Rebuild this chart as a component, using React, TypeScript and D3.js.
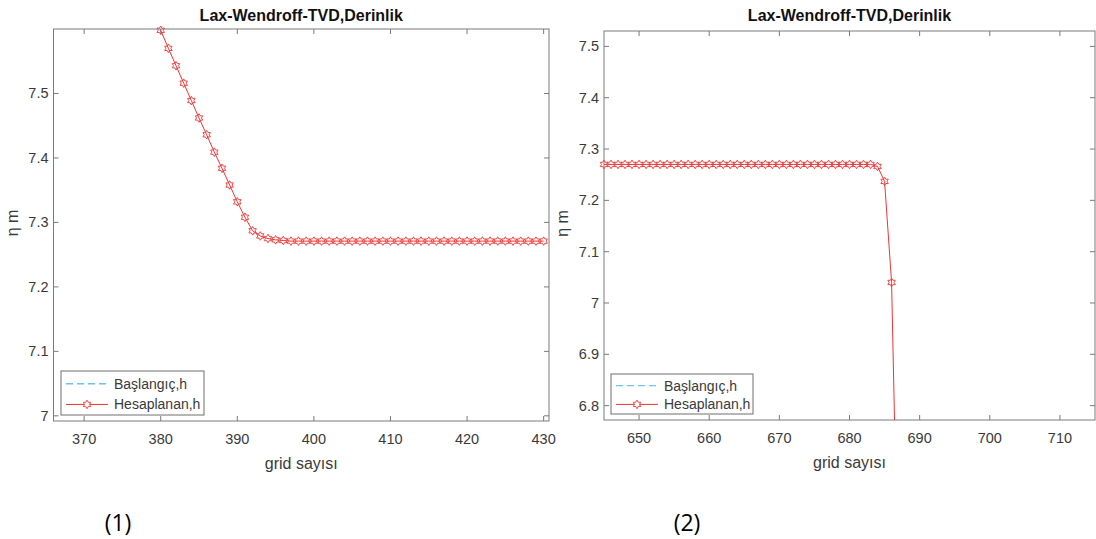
import React, { useEffect, useRef } from 'react';
import * as d3 from 'd3';

// panel (1): grid 380..430
const gridStart1 = 380;
const heights1 = [
  7.598, 7.570, 7.543, 7.516, 7.489, 7.462, 7.436, 7.409, 7.384, 7.358,
  7.332, 7.308, 7.287, 7.279, 7.275, 7.273, 7.272, 7.271, 7.271, 7.271,
  7.271, 7.271, 7.271, 7.271, 7.271, 7.271, 7.271, 7.271, 7.271, 7.271,
  7.271, 7.271, 7.271, 7.271, 7.271, 7.271, 7.271, 7.271, 7.271, 7.271,
  7.271, 7.271, 7.271, 7.271, 7.271, 7.271, 7.271, 7.271, 7.271, 7.271,
  7.271,
];
const xTicks1 = [370, 380, 390, 400, 410, 420, 430];
const yTicks1 = [7, 7.1, 7.2, 7.3, 7.4, 7.5];

// panel (2): grid 645..687
const gridStart2 = 645;
const heights2 = [
  7.27, 7.27, 7.27, 7.27, 7.27, 7.27, 7.27, 7.27, 7.27, 7.27,
  7.27, 7.27, 7.27, 7.27, 7.27, 7.27, 7.27, 7.27, 7.27, 7.27,
  7.27, 7.27, 7.27, 7.27, 7.27, 7.27, 7.27, 7.27, 7.27, 7.27,
  7.27, 7.27, 7.27, 7.27, 7.27, 7.27, 7.27, 7.27, 7.27, 7.266,
  7.237, 7.04, 6.4,
];
const xTicks2 = [650, 660, 670, 680, 690, 700, 710];
const yTicks2 = [6.8, 6.9, 7, 7.1, 7.2, 7.3, 7.4, 7.5];

const legendLabels = ['Başlangıç,h', 'Hesaplanan,h'];
const titleText = 'Lax-Wendroff-TVD,Derinlik';

const RED = '#f03434';
const BLUE = '#6cc4ea';
const AXIS = '#7a7a7a';
const TEXT = '#3a3a3a';
const FONT = '"Liberation Sans", Arial, sans-serif';

const panels = [
  {
    id: 'p1', left: 53.5, right: 549, top: 29, bottom: 421,
    xDomain: [366, 430.7], yDomain: [6.992, 7.6],
    start: gridStart1, values: heights1, xTicks: xTicks1, yTicks: yTicks1,
    legend: { x: 61, y: 371, w: 143, h: 44 }, caption: '(1)', captionX: 118,
  },
  {
    id: 'p2', left: 604, right: 1095, top: 31, bottom: 420,
    xDomain: [645, 715], yDomain: [6.772, 7.53],
    start: gridStart2, values: heights2, xTicks: xTicks2, yTicks: yTicks2,
    legend: { x: 611, y: 374, w: 142, h: 40 }, caption: '(2)', captionX: 687,
  },
];

// six pointed star outline (matlab 'hexagram')
const hexagram = (r: number) => {
  const pts: [number, number][] = [];
  for (let i = 0; i < 12; i++) {
    const a = (Math.PI / 6) * i - Math.PI / 2;
    const rr = i % 2 === 0 ? r : r * 0.58;
    pts.push([Math.cos(a) * rr, Math.sin(a) * rr]);
  }
  return d3.line()(pts) + 'Z';
};

const App = () => {
  const ref = useRef<SVGSVGElement>(null);

  useEffect(() => {
    const svg = d3.select(ref.current);
    svg.selectAll('*').remove();
    const star = hexagram(4.3);

    panels.forEach(p => {
      const x = d3.scaleLinear().domain(p.xDomain).range([p.left, p.right]);
      const y = d3.scaleLinear().domain(p.yDomain).range([p.bottom, p.top]);
      const data = p.values.map((v, i) => ({ g: p.start + i, v }));

      svg.append('clipPath').attr('id', `clip-${p.id}`)
        .append('rect')
        .attr('x', p.left).attr('y', p.top)
        .attr('width', p.right - p.left).attr('height', p.bottom - p.top);

      const g = svg.append('g');

      // axes box + inward ticks on all sides
      g.append('rect')
        .attr('x', p.left).attr('y', p.top)
        .attr('width', p.right - p.left).attr('height', p.bottom - p.top)
        .attr('fill', 'white').attr('stroke', AXIS).attr('stroke-width', 1);

      const tl = 5;
      p.xTicks.forEach(t => {
        g.append('line').attr('x1', x(t)).attr('x2', x(t))
          .attr('y1', p.bottom).attr('y2', p.bottom - tl).attr('stroke', AXIS);
        g.append('line').attr('x1', x(t)).attr('x2', x(t))
          .attr('y1', p.top).attr('y2', p.top + tl).attr('stroke', AXIS);
        g.append('text').attr('x', x(t)).attr('y', p.bottom + 23)
          .attr('text-anchor', 'middle').attr('font-size', 14.5)
          .attr('font-family', FONT).attr('fill', TEXT).text(String(t));
      });
      p.yTicks.forEach(t => {
        g.append('line').attr('x1', p.left).attr('x2', p.left + tl)
          .attr('y1', y(t)).attr('y2', y(t)).attr('stroke', AXIS);
        g.append('line').attr('x1', p.right).attr('x2', p.right - tl)
          .attr('y1', y(t)).attr('y2', y(t)).attr('stroke', AXIS);
        g.append('text').attr('x', p.left - 5).attr('y', y(t) + 5)
          .attr('text-anchor', 'end').attr('font-size', 14.5)
          .attr('font-family', FONT).attr('fill', TEXT).text(String(t));
      });

      // line (clipped) and markers
      const line = d3.line<{ g: number; v: number }>()
        .x(d => x(d.g)).y(d => y(d.v));
      g.append('path').datum(data)
        .attr('clip-path', `url(#clip-${p.id})`)
        .attr('fill', 'none').attr('stroke', RED).attr('stroke-width', 1)
        .attr('d', line);

      const inside = data.filter(d =>
        d.g >= p.xDomain[0] - 0.01 && d.g <= p.xDomain[1] &&
        d.v >= p.yDomain[0] && d.v <= p.yDomain[1] + 0.001);
      g.selectAll('path.mk').data(inside).enter().append('path')
        .attr('class', 'mk')
        .attr('transform', d => `translate(${x(d.g)},${y(d.v)})`)
        .attr('d', star).attr('fill', 'none')
        .attr('stroke', RED).attr('stroke-width', 0.9);

      // titles and labels
      const cx = (p.left + p.right) / 2;
      g.append('text').attr('x', cx).attr('y', 21)
        .attr('text-anchor', 'middle').attr('font-size', 16)
        .attr('font-weight', 'bold').attr('font-family', FONT)
        .attr('fill', '#111').text(titleText);
      g.append('text').attr('x', cx).attr('y', p.bottom + 48)
        .attr('text-anchor', 'middle').attr('font-size', 16)
        .attr('font-family', FONT).attr('fill', TEXT).text('grid sayısı');
      g.append('text')
        .attr('transform', `translate(${p.left - 36},${(p.top + p.bottom) / 2 - 2}) rotate(-90)`)
        .attr('text-anchor', 'middle').attr('font-size', 16)
        .attr('font-family', FONT).attr('fill', TEXT).text('η m');

      // legend
      const L = p.legend;
      const lg = g.append('g');
      lg.append('rect').attr('x', L.x).attr('y', L.y)
        .attr('width', L.w).attr('height', L.h)
        .attr('fill', 'white').attr('stroke', '#6e6e6e').attr('stroke-width', 1);
      const rowY = [L.y + L.h * 0.29, L.y + L.h * 0.76];
      const lx0 = L.x + 5, lx1 = L.x + 47;
      lg.append('line').attr('x1', lx0).attr('x2', lx1)
        .attr('y1', rowY[0]).attr('y2', rowY[0])
        .attr('stroke', BLUE).attr('stroke-width', 1.3)
        .attr('stroke-dasharray', '7,4');
      lg.append('line').attr('x1', lx0).attr('x2', lx1)
        .attr('y1', rowY[1]).attr('y2', rowY[1])
        .attr('stroke', RED).attr('stroke-width', 1);
      lg.append('path')
        .attr('transform', `translate(${(lx0 + lx1) / 2},${rowY[1]})`)
        .attr('d', star).attr('fill', 'white')
        .attr('stroke', RED).attr('stroke-width', 0.9);
      legendLabels.forEach((t, i) => {
        lg.append('text').attr('x', lx1 + 6).attr('y', rowY[i] + 5)
          .attr('font-size', 14).attr('font-family', FONT)
          .attr('fill', TEXT).text(t);
      });

      // caption under the panel
      svg.append('text').attr('x', p.captionX).attr('y', 531)
        .attr('text-anchor', 'middle').attr('font-size', 23)
        .attr('font-family', '"Open Sans", sans-serif')
        .attr('fill', '#000').text(p.caption);
    });
  }, []);

  return (
    <svg
      ref={ref}
      width={1096}
      height={539}
      style={{ position: 'absolute', left: 0, top: 0, background: 'white' }}
    />
  );
};

export default App;
